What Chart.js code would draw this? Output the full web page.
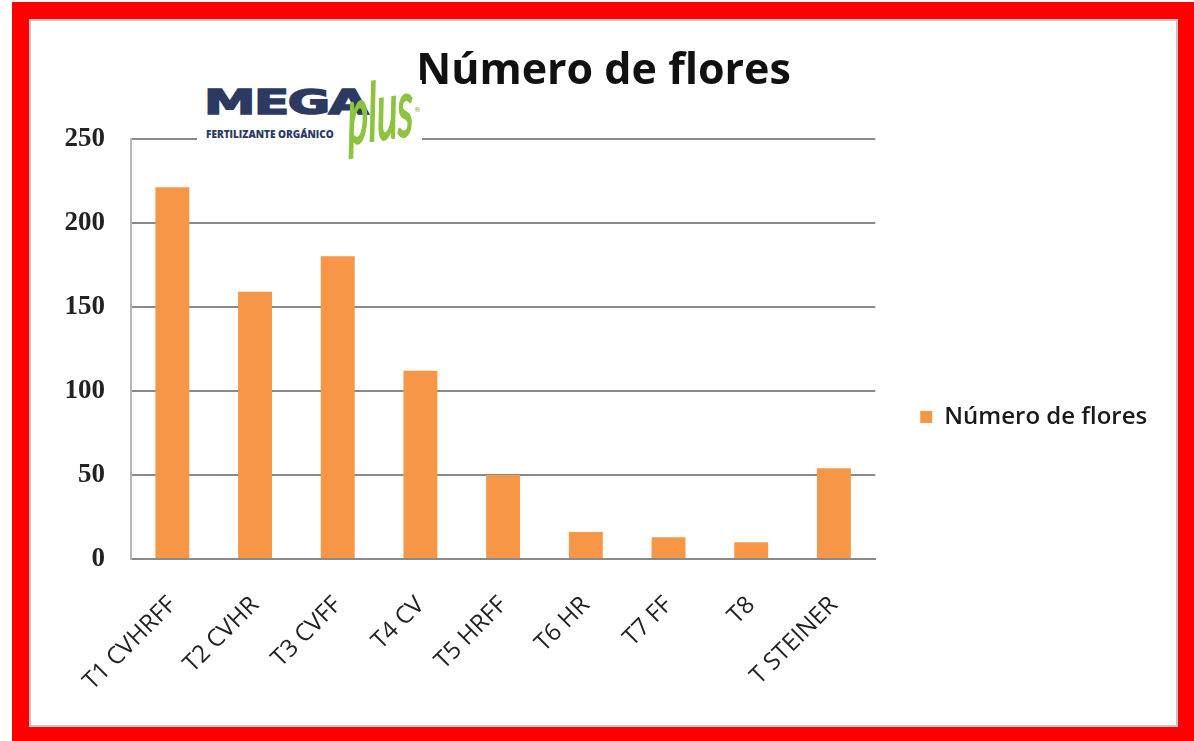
<!DOCTYPE html>
<html>
<head>
<meta charset="utf-8">
<script src="https://cdn.jsdelivr.net/npm/chart.js@4.4.1/dist/chart.umd.min.js"></script>
<style>
  html, body { margin: 0; padding: 0; background: #ffffff; }
  body { width: 1194px; height: 741px; position: relative; overflow: hidden; }
  #frame { position: absolute; left: 12px; top: 2px; width: 1182px; height: 739px; background: #ff0000; }
  #inner { position: absolute; left: 29px; top: 19px; width: 1145px; height: 704px; background: #ffffff; border: 2px solid #c4c4c4; }
  #wrap { position: absolute; left: 31px; top: 21px; width: 1145px; height: 704px; }
  #logo { position: absolute; left: 197px; top: 80px; width: 225px; height: 90px; background: #ffffff; }
  #mega { position: absolute; left: 7px; top: 5px; font-family: "DejaVu Sans", sans-serif; font-weight: 900; font-size: 34px; color: #2c3a62; -webkit-text-stroke: 1.6px #2c3a62; transform: scaleX(1.52); transform-origin: 0 0; letter-spacing: -1px; line-height: 1; }
  #fert { position: absolute; left: 9px; top: 49px; font-family: "Open Sans", sans-serif; font-weight: 800; font-size: 10px; color: #2c3a62; white-space: nowrap; line-height: 1; }
  #plus { position: absolute; left: 149px; top: -6px; font-family: "Lato", sans-serif; font-style: italic; font-weight: 400; font-size: 50px; color: #8dc43f; -webkit-text-stroke: 1.5px #8dc43f; transform: scale(0.78, 1.6) rotate(-4deg); transform-origin: 0 0; line-height: 1; }
  #reg { position: absolute; left: 217px; top: 27px; font-family: "DejaVu Sans", sans-serif; font-size: 7px; color: #7fae3a; line-height: 1; }
</style>
</head>
<body>
<div id="frame"></div>
<div id="inner"></div>
<div id="wrap"><canvas id="c" width="1145" height="704"></canvas></div>
<div id="logo">
  <div id="mega">MEGA</div>
  <div id="plus">plus</div>
  <div id="reg">®</div>
  <div id="fert">FERTILIZANTE ORGÁNICO</div>
</div>
<script>
const chartTitle = "Número de flores";
const seriesName = "Número de flores";
const categories = ["T1 CVHRFF", "T2 CVHR", "T3 CVFF", "T4 CV", "T5 HRFF", "T6 HR", "T7 FF", "T8", "T STEINER"];
const values = [221, 159, 180, 112, 50, 16, 13, 10, 54];
const yMin = 0;
const yMax = 250;
const yStep = 50;

const chart = new Chart(document.getElementById('c'), {
  type: 'bar',
  data: {
    labels: categories,
    datasets: [{
      label: seriesName,
      data: values,
      backgroundColor: '#f79646',
      borderWidth: 0,
      barPercentage: 0.41,
      categoryPercentage: 1.0
    }]
  },
  options: {
    responsive: false,
    animation: false,
    devicePixelRatio: 1,
    layout: { padding: { top: 0, right: 29, bottom: 0, left: 29 } },
    plugins: {
      title: {
        display: true,
        text: chartTitle,
        color: '#111111',
        font: { family: 'Open Sans', size: 43, weight: '700' },
        padding: { top: 25, bottom: 41 }
      },
      legend: {
        display: true,
        position: 'right',
        align: 'center',
        title: { display: true, text: ' ', font: { size: 10, lineHeight: 1 }, padding: { top: 78, bottom: 0 } },
        labels: {
          boxWidth: 12,
          boxHeight: 12,
          padding: 45,
          color: '#1a1a1a',
          font: { family: 'Open Sans', size: 24, weight: '600' }
        }
      },
      tooltip: { enabled: false }
    },
    scales: {
      x: {
        grid: { display: false, drawTicks: false },
        border: { display: true, color: '#8a8a8a', width: 2 },
        ticks: {
          color: '#222222',
          font: { family: 'Open Sans', size: 24 },
          maxRotation: 45,
          minRotation: 45,
          padding: 32,
          autoSkip: false
        },
        afterFit: (s) => { s.height = 166; }
      },
      y: {
        min: yMin,
        max: yMax,
        ticks: {
          stepSize: yStep,
          color: '#222222',
          font: { family: 'Liberation Serif', size: 27, weight: 'bold' },
          padding: 26
        },
        grid: { color: '#8a8a8a', lineWidth: 2, drawTicks: false },
        border: { display: true, color: '#b8b8b8', width: 2 },
        afterFit: (s) => { s.width = 71; }
      }
    }
  }
});
</script>
</body>
</html>
